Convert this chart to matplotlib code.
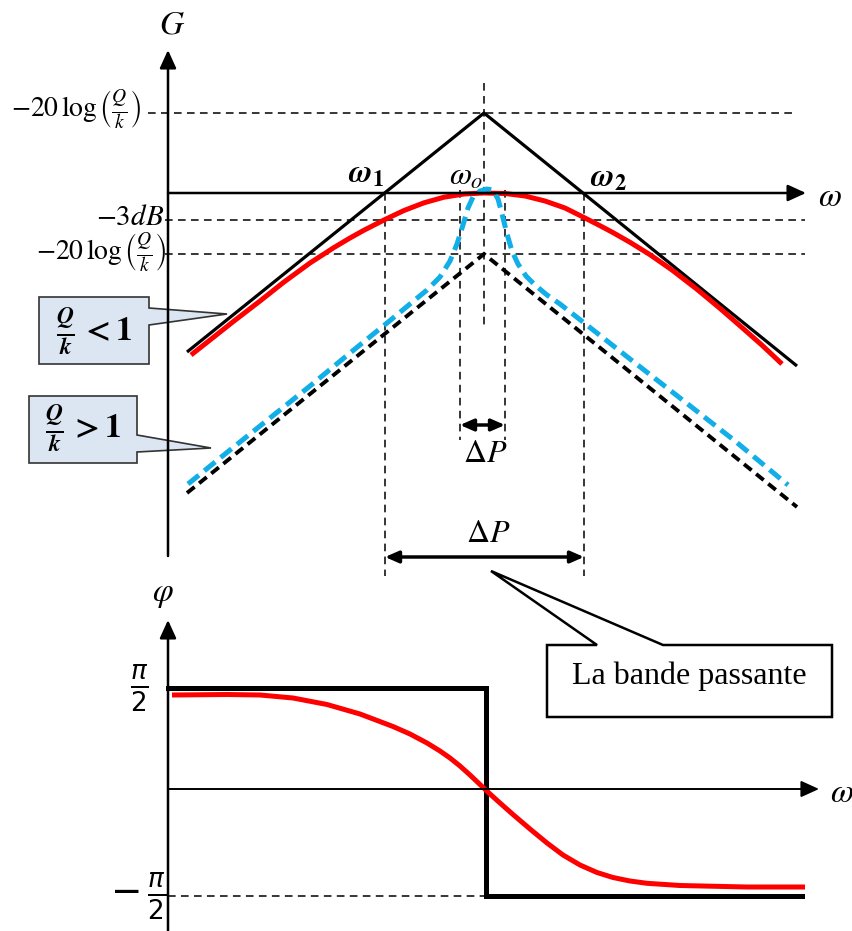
import matplotlib.pyplot as plt
from matplotlib.patches import Polygon

plt.rcParams['mathtext.fontset'] = 'stix'

# ---- values (pixel units, y downwards) ----
# gain diagram
asym_hi_x = [187, 484, 797]
asym_hi_y = [352, 113, 366]
asym_lo_x = [187, 484, 797]
asym_lo_y = [493, 254, 507]

red_gain_x = [191, 210, 234, 260, 284, 310, 334, 350, 364, 385, 404, 424, 444, 464, 484,
              505, 525, 545, 565, 585, 600, 613, 630, 650, 672, 697, 720, 740, 762, 782]
red_gain_y = [355, 340, 321, 301, 282, 263, 247.5, 238, 230.2, 219.5, 210.5, 202.8, 197.2, 194, 193,
              193.5, 196, 201, 208, 218, 225.7, 232.6, 242.3, 254.7, 270, 289.3, 308.4, 325.8, 345.2, 364]

blue_gain_x = [188, 230, 270, 310, 350, 387, 410, 427, 440, 450, 457, 463, 468, 473, 480, 487,
               493, 498, 502, 507, 512, 518, 526, 535, 547, 560, 583, 630, 680, 735, 788]
blue_gain_y = [484, 450, 418, 386, 353, 323, 304, 290, 277, 261, 244, 225, 208, 197, 191, 189,
               190, 199, 214, 234, 251, 264, 276, 285, 295, 304, 322, 359, 398, 441, 485]

# phase diagram
red_phase_x = [172, 227, 260, 293, 327, 360, 393, 410, 427, 440, 450, 460, 470, 480, 490, 500,
               513, 530, 547, 563, 580, 597, 613, 630, 647, 680, 747, 805]
red_phase_y = [695, 694.5, 695, 698, 704.5, 714, 726.5, 734, 743, 751, 758, 766, 775, 784.5, 794, 803,
               814.5, 829, 843, 855, 865, 872.5, 877.5, 881, 883.3, 885.5, 887, 887]
step_x = [168, 486, 486, 802]
step_y = [688, 688, 896, 896]

fig = plt.figure(figsize=(8.53, 9.31), dpi=100)
ax = fig.add_axes([0, 0, 1, 1])
ax.set_xlim(0, 853)
ax.set_ylim(931, 0)
ax.axis('off')

thin = dict(color='black', lw=1.1, linestyle=(0, (5, 3.5)))
axis_arrow = dict(arrowstyle='-|>,head_length=1.1,head_width=0.5', color='black', lw=1.8,
                  shrinkA=0, shrinkB=0)

# ---- top: gain ----
ax.annotate('', xy=(168, 50), xytext=(168, 556), arrowprops=axis_arrow)
ax.annotate('', xy=(806, 193), xytext=(168, 193), arrowprops=axis_arrow)
ax.text(172, 24, r'$G$', fontsize=24, ha='center', va='center')
ax.text(830, 196, r'$\omega$', fontsize=24, ha='center', va='center')

# reference dashed lines
ax.plot([148, 795], [113, 113], **thin)
ax.plot([165, 805], [220, 220], **thin)
ax.plot([165, 805], [254, 254], **thin)
ax.plot([385, 385], [193, 576], **thin)
ax.plot([584, 584], [193, 576], **thin)
ax.plot([484, 484], [83, 327], **thin)
ax.plot([460, 460], [190, 440], **thin)
ax.plot([505, 505], [190, 440], **thin)

ax.text(141, 110, r'$-20\,\log\left(\frac{Q}{k}\right)$', fontsize=20, ha='right', va='center')
ax.text(164, 217, r'$-3dB$', fontsize=21, ha='right', va='center')
ax.text(166, 253, r'$-20\,\log\left(\frac{Q}{k}\right)$', fontsize=20, ha='right', va='center')

# curves
ax.plot(asym_hi_x, asym_hi_y, color='black', lw=2.3, solid_capstyle='butt')
ax.plot(red_gain_x, red_gain_y, color='#ff0000', lw=3.6, solid_capstyle='butt', solid_joinstyle='round')
ax.plot(asym_lo_x, asym_lo_y, color='black', lw=2.8, linestyle=(0, (2.5, 1.5)))
ax.plot(blue_gain_x, blue_gain_y, color='#12aee8', lw=3.6, linestyle=(0, (2.8, 1.4)))

ax.text(366, 174, r'$\mathbfit{\omega}_{\mathbf{1}}$', fontsize=23, ha='center', va='center')
ax.text(466, 176, r'$\omega_o$', fontsize=23, ha='center', va='center')
ax.text(608, 178, r'$\mathbfit{\omega}_{\mathbf{2}}$', fontsize=23, ha='center', va='center')

# bandwidth arrows
dbl = dict(arrowstyle='<|-|>,head_length=0.8,head_width=0.35', color='black', lw=2.5,
           shrinkA=0, shrinkB=0)
ax.annotate('', xy=(460, 425), xytext=(505, 425), arrowprops=dbl)
ax.text(485, 453, r'$\Delta P$', fontsize=23, ha='center', va='center')
ax.annotate('', xy=(385, 557), xytext=(584, 557), arrowprops=dbl)
ax.text(488, 533, r'$\Delta P$', fontsize=23, ha='center', va='center')

# callouts
box_fill = '#dce6f2'
ax.add_patch(Polygon([(39, 297), (149, 297), (149, 308), (227, 314), (149, 325), (149, 364), (39, 364)],
                     closed=True, facecolor=box_fill, edgecolor='#333333', lw=1.2, zorder=1))
ax.text(94, 331, r'$\mathbfit{\frac{Q}{k}}\,\mathbf{<1}$', fontsize=24, ha='center', va='center')
ax.add_patch(Polygon([(29, 396), (137, 396), (137, 435), (211, 448), (137, 452), (137, 463), (29, 463)],
                     closed=True, facecolor=box_fill, edgecolor='#333333', lw=1.2, zorder=1))
ax.text(83, 428, r'$\mathbfit{\frac{Q}{k}}\,\mathbf{>1}$', fontsize=24, ha='center', va='center')

ax.add_patch(Polygon([(547, 645), (597, 645), (491, 571), (663, 645), (832, 645), (832, 717), (547, 717)],
                     closed=True, facecolor='white', edgecolor='black', lw=1.8, zorder=3))
ax.text(689, 676, 'La bande passante', fontsize=23, family='Liberation Serif',
        ha='center', va='center', zorder=4)

# ---- bottom: phase ----
ax.annotate('', xy=(168, 620), xytext=(168, 931), arrowprops=axis_arrow)
ax.annotate('', xy=(819, 789), xytext=(168, 789),
            arrowprops=dict(axis_arrow, lw=1.4))
ax.text(163, 593, r'$\varphi$', fontsize=24, ha='center', va='center')
ax.text(842, 793, r'$\omega$', fontsize=24, ha='center', va='center')

ax.plot([168, 486], [896, 896], **thin)
ax.plot(step_x, step_y, color='black', lw=3.6, solid_joinstyle='miter')
ax.plot(red_phase_x, red_phase_y, color='#ff0000', lw=3.6, solid_capstyle='butt', solid_joinstyle='round')

ax.text(139, 689, r'$\frac{\pi}{2}$', fontsize=27, math_fontfamily='dejavusans',
        ha='center', va='center')
ax.text(138, 897, r'$-\,\frac{\pi}{2}$', fontsize=27, math_fontfamily='dejavusans',
        ha='center', va='center')

fig.savefig('out.png', dpi=100)
